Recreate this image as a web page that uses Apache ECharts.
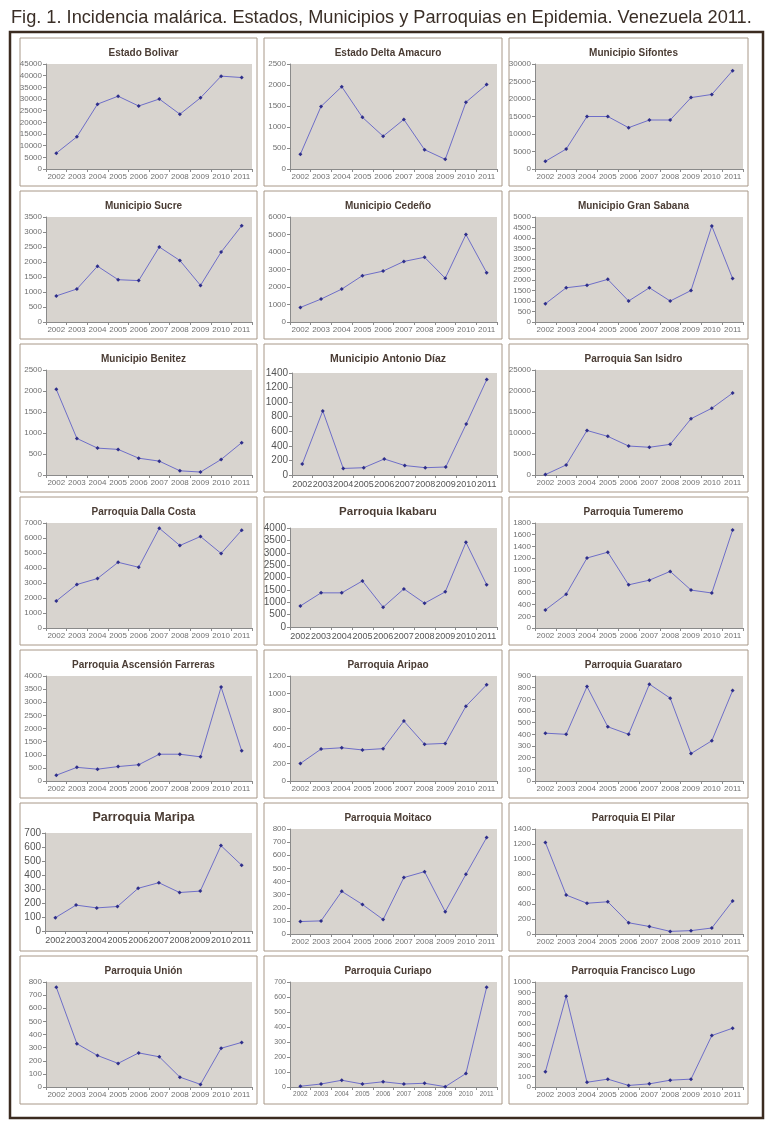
<!DOCTYPE html>
<html><head><meta charset="utf-8">
<script src="https://cdn.jsdelivr.net/npm/echarts@6/dist/echarts.min.js"></script>
<style>html,body{margin:0;padding:0;background:#fff}#c{width:772px;height:1130px}</style>
</head><body><div id="c"></div>
<script>
const years = ['2002','2003','2004','2005','2006','2007','2008','2009','2010','2011'];
const figureTitle = 'Fig. 1. Incidencia malárica. Estados, Municipios y Parroquias en Epidemia. Venezuela 2011.';
const panelTitles = ['Estado Bolivar','Estado Delta Amacuro','Municipio Sifontes',
  'Municipio Sucre','Municipio Cedeño','Municipio Gran Sabana',
  'Municipio Benitez','Municipio Antonio Díaz','Parroquia San Isidro',
  'Parroquia Dalla Costa','Parroquia Ikabaru','Parroquia Tumeremo',
  'Parroquia Ascensión Farreras','Parroquia Aripao','Parroquia Guarataro',
  'Parroquia Maripa','Parroquia Moitaco','Parroquia El Pilar',
  'Parroquia Unión','Parroquia Curiapo','Parroquia Francisco Lugo'];

const estadoBolivar   = [6800,13800,27800,31200,27000,30000,23500,30500,39800,39200];
const deltaAmacuro    = [350,1490,1960,1230,780,1180,460,230,1590,2010];
const sifontes        = [2200,5700,15000,15000,11800,14000,14000,20400,21300,28100];
const sucre           = [870,1100,1860,1410,1380,2500,2050,1220,2330,3210];
const cedeno          = [830,1310,1880,2650,2910,3460,3700,2500,5000,2820];
const granSabana      = [870,1630,1750,2030,1000,1630,1000,1500,4570,2070];
const benitez         = [2040,870,640,610,400,330,100,70,370,770];
const antonioDiaz     = [150,880,90,100,220,130,100,110,700,1310];
const sanIsidro       = [100,2400,10600,9200,6900,6600,7300,13400,15900,19500];
const dallaCosta      = [1800,2900,3300,4380,4050,6650,5500,6100,4970,6520];
const ikabaru         = [850,1380,1380,1860,800,1540,960,1420,3420,1710];
const tumeremo        = [310,580,1200,1300,740,820,970,650,600,1680];
const ascension       = [220,520,450,550,620,1020,1020,920,3580,1150];
const aripao          = [200,365,380,355,370,685,420,430,855,1100];
const guarataro       = [410,400,810,465,400,830,710,235,345,775];
const maripa          = [95,185,165,175,305,345,275,285,610,470];
const moitaco         = [95,100,325,225,110,430,475,170,455,735];
const elPilar         = [1220,520,410,430,150,100,35,45,80,440];
const union           = [760,330,240,180,260,230,75,20,295,340];
const curiapo         = [5,20,45,20,35,20,25,2,90,665];
const franciscoLugo   = [145,865,45,75,15,30,65,75,490,560];

const panelSeries = [estadoBolivar,deltaAmacuro,sifontes,sucre,cedeno,granSabana,
  benitez,antonioDiaz,sanIsidro,dallaCosta,ikabaru,tumeremo,ascension,aripao,guarataro,
  maripa,moitaco,elPilar,union,curiapo,franciscoLugo];
const yMax  = [45000,2500,30000,3500,6000,5000,2500,1400,25000,7000,4000,1800,4000,1200,900,700,800,1400,800,700,1000];
const yStep = [5000,500,5000,500,1000,500,500,200,5000,1000,500,200,500,200,100,100,100,200,100,100,100];

// ---- layout (not data) ----
const colX = [20,264,509], colW = [237,238,239];
const rowY = [38,191,344,497,650,803,956], rowH = 148;
const FONT = '"Liberation Sans", Arial, sans-serif';
const special = {
  7:  {top:29, height:102, left:28, axisFont:10, xFont:9, titleFont:10.5},
  10: {top:31, height:99,  left:26, axisFont:10, xFont:9, titleFont:11.5},
  15: {top:30, height:98,  left:25, axisFont:10, xFont:9, titleFont:12.5},
  19: {axisFont:7, xFont:6.5}
};

const grids=[], xAxes=[], yAxes=[], series=[], graphics=[];
graphics.push({type:'rect', z:-20, shape:{x:10,y:32,width:753,height:1086},
  style:{fill:'#fff', stroke:'#3b2b20', lineWidth:2.5}});
panelTitles.forEach((t,i)=>{
  const r = Math.floor(i/3), c = i%3;
  const px = colX[c], py = rowY[r], pw = colW[c];
  const sp = special[i] || {};
  const top = sp.top ?? 26, height = sp.height ?? 105, left = sp.left ?? 26;
  const axisFont = sp.axisFont ?? 8, xFont = sp.xFont ?? 8, titleFont = sp.titleFont ?? 10;
  graphics.push({type:'rect', z:-10, shape:{x:px,y:py,width:pw,height:rowH},
    style:{fill:'#fff', stroke:'#a89888', lineWidth:1}});
  graphics.push({type:'text', z:5, x:px+pw/2+5, y:py+15,
    style:{text:t, textAlign:'center', textVerticalAlign:'middle',
      font:'bold '+titleFont+'px '+FONT, fill:'#4a3c34'}});
  grids.push({left:px+left, top:py+top, width:pw-left-5, height:height, show:true,
    backgroundColor:'#d8d4cf', borderWidth:0, containLabel:false});
  const labCol = axisFont>8 ? '#555' : '#707070';
  xAxes.push({type:'category', gridIndex:i, data:years, boundaryGap:true,
    axisLine:{lineStyle:{color:'#8a8a8a',width:1}},
    axisTick:{show:true, alignWithLabel:false, length:3, lineStyle:{color:'#8a8a8a'}},
    axisLabel:{interval:0, fontSize:xFont, color:labCol, margin:axisFont>8?5:4, fontFamily:FONT},
    splitLine:{show:false}});
  yAxes.push({type:'value', gridIndex:i, min:0, max:yMax[i], interval:yStep[i],
    axisLine:{show:true, lineStyle:{color:'#8a8a8a',width:1}},
    axisTick:{show:true, length:3, lineStyle:{color:'#8a8a8a'}},
    axisLabel:{fontSize:axisFont, color:labCol, margin:4, fontFamily:FONT,
      formatter:(v)=>String(v)},
    splitLine:{show:false}});
  series.push({type:'line', xAxisIndex:i, yAxisIndex:i, data:panelSeries[i],
    symbol:'diamond', symbolSize:4, animation:false,
    lineStyle:{color:'#6e6ec8', width:1},
    itemStyle:{color:'#2e2e8a'}});
});

const chart = echarts.init(document.getElementById('c'), null, {renderer:'canvas'});
chart.setOption({
  animation:false,
  backgroundColor:'#fff',
  title:{text:figureTitle, left:6, top:4,
    textStyle:{fontSize:18.2, fontWeight:'normal', color:'#3a2e26', fontFamily:FONT}},
  graphic:graphics,
  grid:grids, xAxis:xAxes, yAxis:yAxes, series:series
});
</script></body></html>
